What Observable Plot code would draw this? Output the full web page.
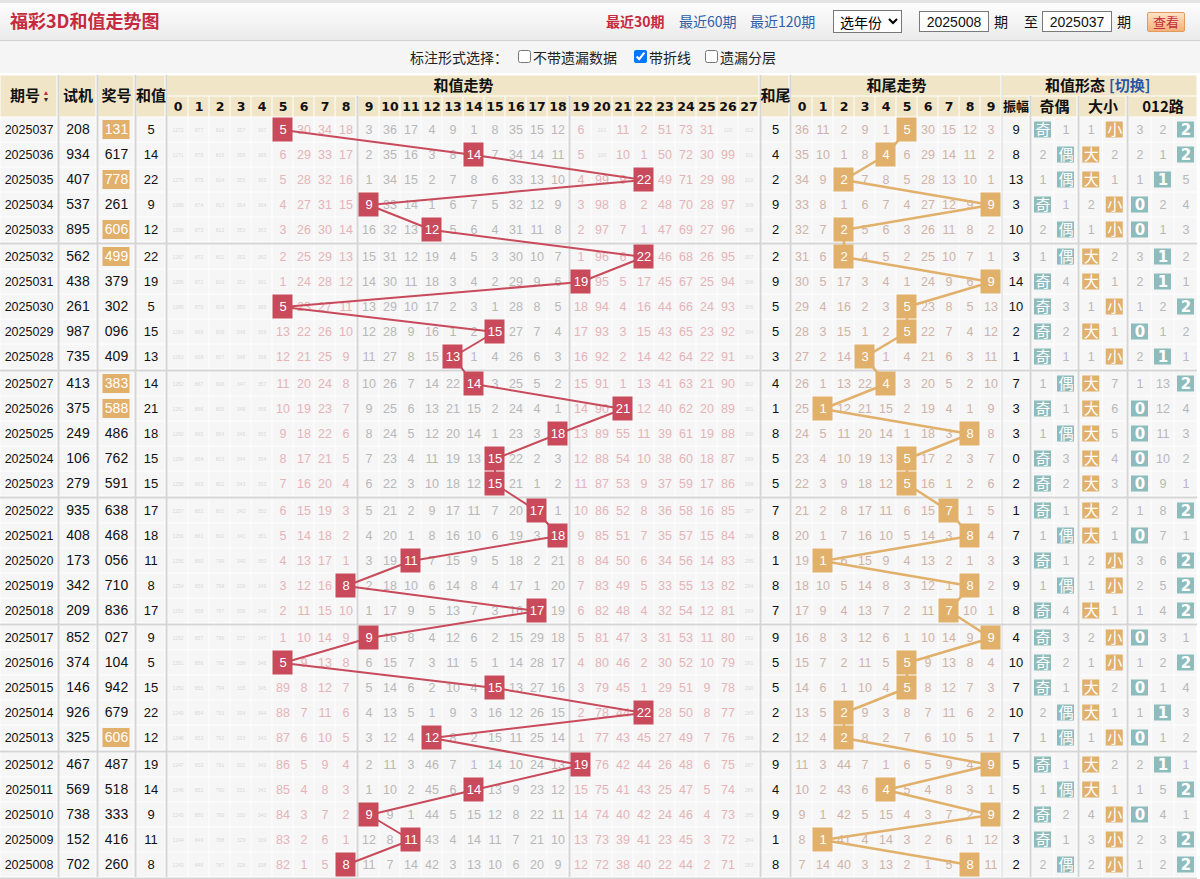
<!DOCTYPE html>
<html lang="zh-CN">
<head>
<meta charset="utf-8">
<title>福彩3D和值走势图</title>
<script src="https://cdn.jsdelivr.net/npm/d3@7"></script>
<script src="https://cdn.jsdelivr.net/npm/@observablehq/plot@0.6"></script>
<style>
html,body{margin:0;padding:0;}
body{width:1200px;height:879px;overflow:hidden;background:#f5f5f5;font-family:"Noto Sans CJK SC","Liberation Sans",sans-serif;position:relative;color:#222;}
.abs{position:absolute;white-space:nowrap;}
#bar{left:0;top:0;width:1200px;height:41px;background:linear-gradient(#fdfdfd,#ebebeb);border-top:3px solid #e4e4e4;border-bottom:1px solid #d3d3d3;box-sizing:border-box;}
#title{left:10px;top:6px;font-size:18px;font-weight:bold;color:#c52a3d;line-height:28px;}
.lnk{top:10px;font-size:14px;line-height:22px;color:#2f5ea8;}
.red{color:#c52a3d;font-weight:bold;}
.txt{top:10px;font-size:14px;line-height:22px;color:#111;}
select.abs{top:10px;left:833px;width:69px;height:23px;font-size:14px;font-family:"Noto Sans CJK SC",sans-serif;border:1px solid #777;background:#fff;padding:0 2px;}
input.box{top:11px;width:70px;height:21px;box-sizing:border-box;border:1px solid #7a7a7a;font:14px "Liberation Sans",sans-serif;text-align:center;padding:0;background:#fff;color:#111;}
#btn{left:1147px;top:12px;width:38px;height:20px;box-sizing:border-box;background:linear-gradient(#fde3c6,#f5b077);border:1px solid #e39a5e;color:#c52a3d;font-size:13px;line-height:18px;text-align:center;border-radius:2px;}
.opt{top:47px;font-size:14px;line-height:20px;color:#222;}
input.cb{position:absolute;top:50px;margin:0;width:13px;height:13px;}
#chart{position:absolute;left:0;top:73px;}
</style>
</head>
<body>
<div id="bar" class="abs"></div>
<div id="title" class="abs">福彩3D和值走势图</div>
<span class="abs lnk red" style="left:606px">最近30期</span>
<span class="abs lnk" style="left:679px">最近60期</span>
<span class="abs lnk" style="left:750px">最近120期</span>
<select class="abs"><option>选年份</option></select>
<input class="abs box" style="left:919px" value="2025008">
<span class="abs txt" style="left:994px">期</span>
<span class="abs txt" style="left:1024px">至</span>
<input class="abs box" style="left:1042px" value="2025037">
<span class="abs txt" style="left:1117px">期</span>
<div id="btn" class="abs">查看</div>
<span class="abs opt" style="left:410px">标注形式选择：</span>
<input type="checkbox" class="cb" style="left:518px">
<span class="abs opt" style="left:533px">不带遗漏数据</span>
<input type="checkbox" class="cb" style="left:634px" checked>
<span class="abs opt" style="left:649px">带折线</span>
<input type="checkbox" class="cb" style="left:705px">
<span class="abs opt" style="left:720px">遗漏分层</span>
<div id="chart"></div>
<script>
// ---------------- DATA (newest issue first) ----------------
const issues = ["2025037","2025036","2025035","2025034","2025033","2025032","2025031","2025030","2025029","2025028",
  "2025027","2025026","2025025","2025024","2025023","2025022","2025021","2025020","2025019","2025018",
  "2025017","2025016","2025015","2025014","2025013","2025012","2025011","2025010","2025009","2025008"];
const testNums = ["208","934","407","537","895","562","438","261","987","735",
  "413","375","249","106","279","935","408","173","342","209",
  "852","374","146","926","325","467","569","738","152","702"];
const prizeNums = ["131","617","778","261","606","499","379","302","096","409",
  "383","588","486","762","591","638","468","056","710","836",
  "027","104","942","679","606","487","518","333","416","260"];
const sums = [5,14,22,9,12,22,19,5,15,13,14,21,18,15,15,17,18,11,8,17,9,5,15,22,12,19,14,9,11,8];
const tails = [5,4,2,9,2,2,9,5,5,3,4,1,8,5,5,7,8,1,8,7,9,5,5,2,2,9,4,9,1,8];
const amplitudes = [9,8,13,3,10,3,14,10,2,1,7,3,3,0,2,1,7,3,9,8,4,10,7,10,7,5,5,2,3,2];
const sumColumns = [0,1,2,3,4,5,6,7,8,9,10,11,12,13,14,15,16,17,18,19,20,21,22,23,24,25,26,27];
const tailColumns = [0,1,2,3,4,5,6,7,8,9];
const oddEvenLabels = ["奇","偶"];
const bigSmallLabels = ["大","小"];
const mod3Labels = ["0","1","2"];
// omission counts printed on the oldest row shown (2025008); 0 = hit in that row
const firstSumOmission = [1243,848,787,328,338,82,1,5,0,11,7,14,42,3,13,10,6,20,9,12,72,38,40,22,44,2,71,283];
const firstTailOmission = [7,14,40,3,13,2,1,5,0,11];
const firstOddEvenOmission = [2,0];
const firstBigSmallOmission = [2,0];
const firstMod3Omission = [1,2,0];

// ---------------- derived tables ----------------
const N = issues.length;
function omissionTable(first, hits) {
  const out = new Array(N); let prev = null;
  for (let k = 0; k < N; k++) {
    const i = N - 1 - k, h = hits[i];
    const cur = k === 0 ? first.slice() : prev.map((v, j) => j === h ? 0 : v + 1);
    out[i] = cur; prev = cur;
  }
  return out;
}
const oeHit = sums.map(s => s % 2 === 1 ? 0 : 1);
const bsHit = sums.map(s => s >= 14 ? 0 : 1);
const mHit = sums.map(s => s % 3);
const sumOm = omissionTable(firstSumOmission, sums);
const tailOm = omissionTable(firstTailOmission, tails);
const oeOm = omissionTable(firstOddEvenOmission, oeHit);
const bsOm = omissionTable(firstBigSmallOmission, bsHit);
const mOm = omissionTable(firstMod3Omission, mHit);

// ---------------- layout (pixels) ----------------
const TOP = 2, H1 = 21, H2 = 21, ROW = 25, GG = 2, H = 806;
const specs = [["issue",57,0],["test",37,2],["prize",36,2],["sum",29,2]];
sumColumns.forEach((c,i) => specs.push(["s"+c,21,(i===0||i===9||i===19)?2:0]));
specs.push(["tail",28,2]);
tailColumns.forEach((c,i) => specs.push(["t"+c,21,i===0?2:0]));
specs.push(["amp",27,1],["oe0",23,2],["oe1",23,0],["bs0",23.5,2],["bs1",23.5,0],["m0",23,2],["m1",23,0],["m2",23,0]);
const C = {}; let cx = 0; const gaps = [];
for (const [k,w,g] of specs) {
  if (g) gaps.push({x: cx + g/2, w: g, key: k});
  cx += g; C[k] = {x1: cx, x2: cx + w, cx: cx + w/2}; cx += w;
}
const totalW = cx;
const rowY1 = i => TOP + H1 + H2 + i*ROW + Math.floor(i/5)*GG;
const rowMid = i => rowY1(i) + ROW/2;
const lastBottom = rowY1(N-1) + ROW;

const HEAD = "#f1e5c7", CELL = "#f6f6f6", RED = "#c84a5b", ORANGE = "#e1b06b", TEAL = "#8dbcbd";

// backgrounds
const bg = [];
const span = (a,b,y1,y2,fill) => bg.push({x1:C[a].x1,x2:C[b].x2,y1,y2,fill});
["issue","test","prize","sum","tail"].forEach(k => span(k,k,TOP,TOP+H1+H2,HEAD));
span("s0","s27",TOP,TOP+H1,HEAD); span("t0","t9",TOP,TOP+H1,HEAD); span("amp","m2",TOP,TOP+H1,HEAD);
sumColumns.forEach(c => span("s"+c,"s"+c,TOP+H1,TOP+H1+H2,HEAD));
tailColumns.forEach(c => span("t"+c,"t"+c,TOP+H1,TOP+H1+H2,HEAD));
span("amp","amp",TOP+H1,TOP+H1+H2,HEAD); span("oe0","oe1",TOP+H1,TOP+H1+H2,HEAD);
span("bs0","bs1",TOP+H1,TOP+H1+H2,HEAD); span("m0","m2",TOP+H1,TOP+H1+H2,HEAD);
for (let i = 0; i < N; i++) for (const [k] of specs) span(k,k,rowY1(i),rowY1(i)+ROW,CELL);

// separator lines
const partial = new Set(["s9","s19","oe0","bs0","m0"]);
const vlines = gaps.map(g => ({x:g.x, w:g.w, y1: partial.has(g.key) ? TOP+H1 : TOP, y2: lastBottom}));
const hlines = [1,2,3,4,5].map(g => ({y: rowY1(5*g) - GG/2})).concat([{y: lastBottom + 1}]);

// header texts
const hdrCJK = [], hdrNum = [];
const mid2 = TOP + (H1+H2)/2, midR1 = TOP + H1/2, midR2 = TOP + H1 + H2/2;
hdrCJK.push({x:C.issue.cx-4,y:mid2,t:"期号"},{x:C.test.cx,y:mid2,t:"试机"},{x:C.prize.cx,y:mid2,t:"奖号"},
  {x:C.sum.cx,y:mid2,t:"和值"},{x:C.tail.cx,y:mid2,t:"和尾"},
  {x:(C.s0.x1+C.s27.x2)/2,y:midR1,t:"和值走势"},{x:(C.t0.x1+C.t9.x2)/2,y:midR1,t:"和尾走势"},
  {x:(C.oe0.x1+C.oe1.x2)/2,y:midR2,t:"奇偶"},{x:(C.bs0.x1+C.bs1.x2)/2,y:midR2,t:"大小"},{x:(C.m0.x1+C.m2.x2)/2,y:midR2,t:"012路"});
sumColumns.forEach(c => hdrNum.push({x:C["s"+c].cx,y:midR2,t:String(c)}));
tailColumns.forEach(c => hdrNum.push({x:C["t"+c].cx,y:midR2,t:String(c)}));
const formMid = (C.amp.x1 + C.m2.x2)/2;

// cell texts
const omTxt = [], plainTxt = [], hitBox = [], hitTxt = [], formBox = [], formTxt = [];
const sumPts = [], tailPts = [];
const isPair = p => new Set(p).size === 2;
for (let i = 0; i < N; i++) {
  const y = rowMid(i), y1 = rowY1(i), y2 = y1 + ROW;
  plainTxt.push({x:C.issue.cx,y,t:issues[i],s:12.5});
  plainTxt.push({x:C.test.cx,y,t:testNums[i],s:14});
  if (isPair(prizeNums[i])) {
    hitBox.push({x1:C.prize.cx-13.5,x2:C.prize.cx+13.5,y1:y-9.5,y2:y+9.5,fill:ORANGE});
    hitTxt.push({x:C.prize.cx,y,t:prizeNums[i],s:14});
  } else plainTxt.push({x:C.prize.cx,y,t:prizeNums[i],s:14});
  plainTxt.push({x:C.sum.cx,y,t:String(sums[i]),s:13});
  plainTxt.push({x:C.tail.cx,y,t:String(tails[i]),s:13});
  plainTxt.push({x:C.amp.cx,y,t:String(amplitudes[i]),s:13});
  sumColumns.forEach(c => {
    const k = "s"+c, v = sumOm[i][c];
    if (v === 0) {
      hitBox.push({x1:C[k].x1+0.5,x2:C[k].x2-0.5,y1:y1+0.5,y2:y2-0.5,fill:RED});
      hitTxt.push({x:C[k].cx,y,t:String(c),s:13});
    } else {
      const col = (c <= 8 || c >= 19) ? "#e5b4b8" : "#b8b8b8";
      omTxt.push(v >= 100 ? {x:C[k].cx,y,t:String(v),s:5,fill:"#d9d9d9"} : {x:C[k].cx,y,t:String(v),s:12.5,fill:col});
    }
  });
  sumPts.push({x:C["s"+sums[i]].cx,y});
  tailColumns.forEach(c => {
    const k = "t"+c, v = tailOm[i][c];
    if (v === 0) {
      hitBox.push({x1:C[k].x1+0.5,x2:C[k].x2-0.5,y1:y1+0.5,y2:y2-0.5,fill:ORANGE});
      hitTxt.push({x:C[k].cx,y,t:String(c),s:13});
    } else omTxt.push({x:C[k].cx,y,t:String(v),s:12.5,fill:"#d0b3a8"});
  });
  tailPts.push({x:C["t"+tails[i]].cx,y});
  const forms = [["oe",oeOm[i],oddEvenLabels,TEAL],["bs",bsOm[i],bigSmallLabels,ORANGE],["m",mOm[i],mod3Labels,TEAL]];
  for (const [p, om, labels, fill] of forms) {
    om.forEach((v, j) => {
      const k = p + j;
      if (v === 0) {
        formBox.push({x1:C[k].cx-8.5,x2:C[k].cx+8.5,y1:y-8,y2:y+8,fill});
        formTxt.push({x:C[k].cx,y,t:labels[j],bold:p==="m"});
      } else omTxt.push({x:C[k].cx,y,t:String(v),s:12.5,fill:"#b8b8b8"});
    });
  }
}

const R = (data, o={}) => Plot.rect(data, {x1:"x1",x2:"x2",y1:"y1",y2:"y2",fill:"fill",...o});
const T = (data, o={}) => Plot.text(data, {x:"x",y:"y",text:"t",...o});

const chart = Plot.plot({
  width: 1200, height: H, margin: 0,
  x: {domain:[0,1200], range:[0,1200], axis:null},
  y: {domain:[0,H], range:[0,H], axis:null},
  color: {type:"identity"},
  style: {background:"#ffffff", fontFamily:"'Liberation Sans','Noto Sans CJK SC',sans-serif"},
  marks: [
    R(bg, {inset:0.5}),
    Plot.ruleX(vlines, {x:"x", y1:"y1", y2:"y2", stroke:"#d5d5d5", strokeWidth:"w"}),
    Plot.ruleY(hlines, {y:"y", x1:0, x2:totalW, stroke:"#d5d5d5", strokeWidth:2}),
    T(hdrCJK, {fontSize:15, fontWeight:"bold", fill:"#111", fontFamily:"'Noto Sans CJK SC',sans-serif"}),
    T(hdrNum, {fontSize:12.5, fontWeight:"bold", fill:"#111", fontFamily:"'DejaVu Sans',sans-serif"}),
    T([{x:C.amp.cx,y:midR2,t:"振幅"}], {fontSize:13, fontWeight:"bold", fill:"#111", fontFamily:"'Noto Sans CJK SC',sans-serif"}),
    T([{x:formMid+5,y:midR1,t:"和值形态"}], {fontSize:15, fontWeight:"bold", fill:"#111", textAnchor:"end", fontFamily:"'Noto Sans CJK SC',sans-serif"}),
    T([{x:formMid+9,y:midR1,t:"[切换]"}], {fontSize:15, fontWeight:"bold", fill:"#2a56a6", textAnchor:"start", fontFamily:"'Noto Sans CJK SC',sans-serif"}),
    T([{x:C.issue.cx+17,y:mid2-3.5,t:"▲"}], {fontSize:7, fill:"#c52a3d"}),
    T([{x:C.issue.cx+17,y:mid2+3.5,t:"▼"}], {fontSize:7, fill:"#333"}),
    T(plainTxt, {fontSize:"s", fill:"#111"}),
    T(omTxt, {fontSize:"s", fill:"fill"}),
    Plot.line(sumPts, {x:"x", y:"y", stroke:RED, strokeWidth:2}),
    Plot.line(tailPts, {x:"x", y:"y", stroke:ORANGE, strokeWidth:2.5}),
    R(hitBox),
    T(hitTxt, {fontSize:"s", fill:"#fff"}),
    R(formBox),
    T(formTxt.filter(d => !d.bold), {fontSize:15, fill:"#fff", fontFamily:"'Noto Sans CJK SC',sans-serif"}),
    T(formTxt.filter(d => d.bold), {fontSize:15, fontWeight:"bold", fill:"#fff", fontFamily:"'DejaVu Sans',sans-serif"})
  ]
});
document.getElementById("chart").appendChild(chart);
</script>
</body>
</html>
